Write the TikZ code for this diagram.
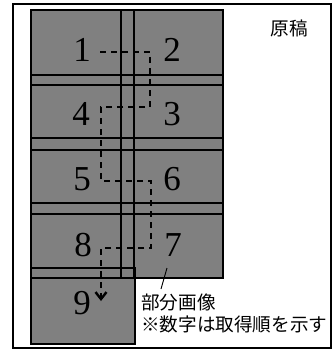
\documentclass[tikz,border=0pt]{standalone}
\usepackage{fontspec}
\setmainfont{Liberation Serif}
\newfontfamily\cjk{Noto Sans CJK JP}
\usetikzlibrary{arrows.meta}
\begin{document}
\begin{tikzpicture}[x=1pt,y=-1pt,
  partfill/.style={fill=black!50},
  partline/.style={draw=black,line width=1.3pt},
  digit/.style={font=\fontsize{35}{35}\selectfont,inner sep=0pt},
  jtext/.style={font=\cjk\fontsize{18.6}{18.6}\selectfont,inner sep=0pt,anchor=west},
  order/.style={line width=2.2pt,dash pattern=on 6pt off 5pt}]
\useasboundingbox (0,0) rectangle (332,353);
\draw[line width=1.2pt] (13,4) rectangle (331,348);
% fills
\foreach \y/\h in {10/85,75/150,138/214,203/278}{
  \fill[partfill] (31,\y) rectangle (134,\h);
  \fill[partfill] (121,\y) rectangle (223,\h);
}
\fill[partfill] (31,268) rectangle (135,344);
% borders
\foreach \y/\h in {10/85,75/150,138/214,203/278}{
  \draw[partline] (31,\y) rectangle (134,\h);
  \draw[partline] (121,\y) rectangle (223,\h);
}
\draw[partline] (31,268) rectangle (135,344);
% digits
\node[digit] (n1) at (82,50) {1};
\node[digit] (n2) at (172,50) {2};
\node[digit] (n3) at (172,114) {3};
\node[digit] (n4) at (81,114) {4};
\node[digit] (n5) at (82,179) {5};
\node[digit] (n6) at (172,179) {6};
\node[digit] (n7) at (173,245) {7};
\node[digit] (n8) at (83,245) {8};
\node[digit] (n9) at (82,303) {9};
% order path
\coordinate (p0) at (100,52);
\coordinate (c1) at (150,52);
\coordinate (c2) at (150,107);
\coordinate (c3) at (101,107);
\coordinate (c4) at (101,181);
\coordinate (c5) at (151,181);
\coordinate (c6) at (151,248);
\coordinate (c7) at (101,248);
\coordinate (pe) at (101,301);
\draw[order,-{Straight Barb[length=7pt,width=11pt,line width=2.4pt]}]
  (p0) -- (c1) -- (c2) -- (c3) -- (c4) -- (c5) -- (c6) -- (c7) -- (pe);
% labels
\node[font=\cjk\fontsize{18.6}{18.6}\selectfont,inner sep=0pt] (orig) at (289,28) {原稿};
\node[jtext] (lab) at (141,302) {部分画像};
\node[jtext] (note) at (141,324) {※数字は取得順を示す};
\coordinate (lt) at (167,268);
\coordinate (lb) at (161,289);
\draw[line width=0.9pt] (lb) -- (lt);
\end{tikzpicture}
\end{document}
